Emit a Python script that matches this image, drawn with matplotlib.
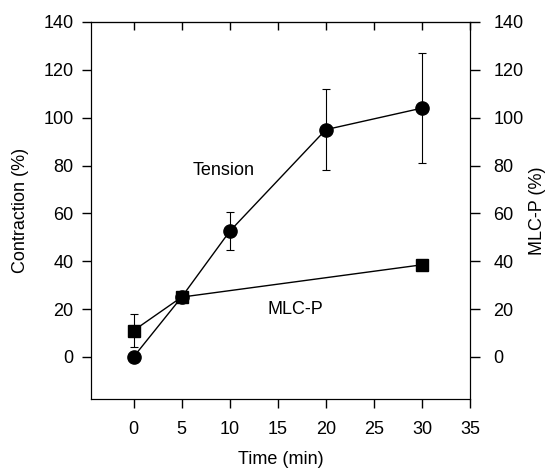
import matplotlib
matplotlib.use("Agg")
import matplotlib.pyplot as plt

plt.rcParams['font.family'] = ['Liberation Sans', 'DejaVu Sans']

time_tension = [0, 5, 10, 20, 30]
tension = [0, 25, 52.5, 95, 104]
tension_err = [0, 0, 8, 17, 23]

time_mlcp = [0, 5, 30]
mlcp = [11, 25, 38.5]
mlcp_err = [7, 0, 0]

x_ticks = [0, 5, 10, 15, 20, 25, 30, 35]
y_ticks = [0, 20, 40, 60, 80, 100, 120, 140]

FS = 13

fig = plt.figure(figsize=(5.5, 4.7), dpi=100)
ax = fig.add_axes([91/550, 1-399/470, (470-91)/550, (399-22)/470])

ax.errorbar(time_tension, tension, yerr=tension_err, color='black', lw=1,
            marker='o', ms=9.5, mfc='black', mec='black', capsize=3.2,
            elinewidth=0.8, capthick=0.8, zorder=3)
ax.errorbar(time_mlcp, mlcp, yerr=mlcp_err, color='black', lw=1,
            marker='s', ms=8.8, mfc='black', mec='black', capsize=3.2,
            elinewidth=0.8, capthick=0.8, zorder=4)

ax.set_xlim(-4.43, 35)
ax.set_ylim(-17.6, 140)
ax.set_xticks(x_ticks)
ax.set_yticks(y_ticks)
ax.tick_params(axis='both', direction='out', length=6.5, width=1, labelsize=FS)
ax.tick_params(axis='x', pad=9)
ax.tick_params(axis='y', pad=6)

sec = ax.secondary_xaxis('top')
sec.set_xticks(x_ticks)
sec.tick_params(direction='in', length=6, width=1, labeltop=False)

ax2 = ax.twinx()
ax2.set_ylim(-17.6, 140)
ax2.set_yticks(y_ticks)
ax2.tick_params(axis='y', direction='out', length=7, width=1, labelsize=FS, pad=10)

ax.set_xlabel('Time (min)', fontsize=FS, labelpad=10)
ax.set_ylabel('Contraction (%)', fontsize=FS, labelpad=10)
ax2.set_ylabel('MLC-P (%)', fontsize=FS, labelpad=4)

ax.text(9.4, 78, 'Tension', fontsize=FS, ha='center', va='center')
ax.text(16.8, 19.7, 'MLC-P', fontsize=FS, ha='center', va='center')

fig.savefig('out.png', dpi=100)
